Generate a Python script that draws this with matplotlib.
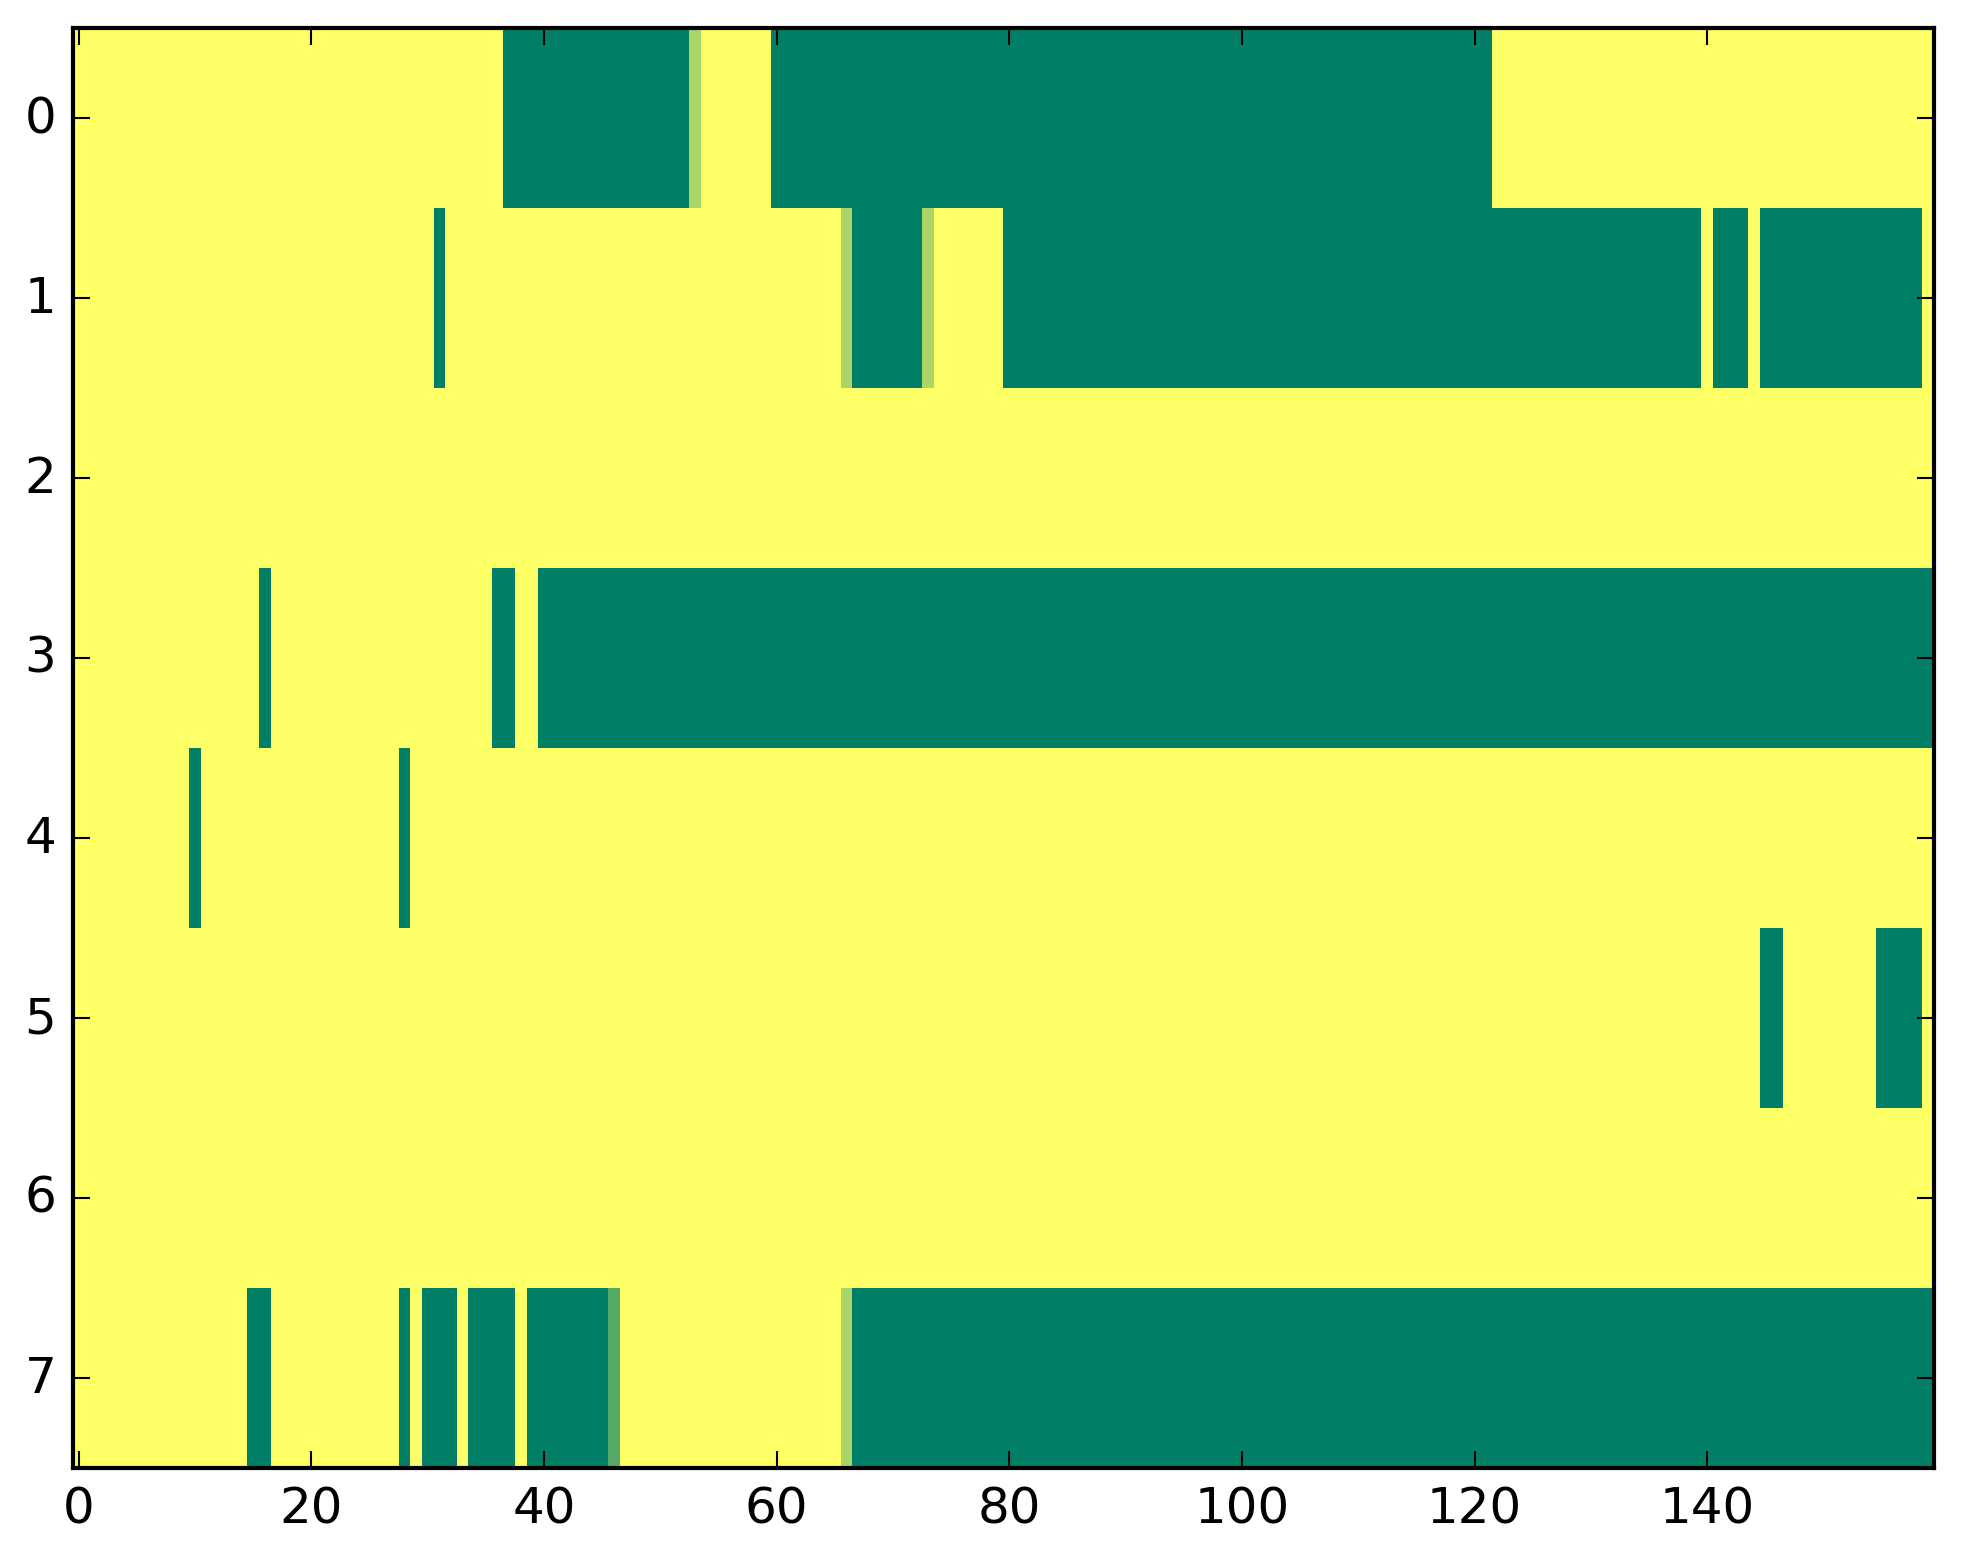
import numpy as np
import matplotlib
matplotlib.use("Agg")
import matplotlib.pyplot as plt

plt.style.use("classic")

n_rows = 8
n_cols = 160

# Non-yellow runs per row: (first column, last column, value)
row0 = [(37, 52, 1.0), (53, 53, 0.33), (60, 121, 1.0)]
row1 = [(31, 31, 1.0), (66, 66, 0.33), (67, 72, 1.0), (73, 73, 0.33),
        (80, 139, 1.0), (141, 143, 1.0), (145, 158, 1.0)]
row2 = []
row3 = [(16, 16, 1.0), (36, 37, 1.0), (40, 159, 1.0)]
row4 = [(10, 10, 1.0), (28, 28, 1.0)]
row5 = [(145, 146, 1.0), (155, 158, 1.0)]
row6 = []
row7 = [(15, 16, 1.0), (28, 28, 1.0), (30, 32, 1.0), (34, 37, 1.0),
        (39, 45, 1.0), (46, 46, 0.67), (66, 66, 0.33), (67, 159, 1.0)]
rows = [row0, row1, row2, row3, row4, row5, row6, row7]

xticks = [0, 20, 40, 60, 80, 100, 120, 140]
yticks = [0, 1, 2, 3, 4, 5, 6, 7]

grid = np.zeros((n_rows, n_cols))
for r, runs in enumerate(rows):
    for a, b, v in runs:
        grid[r, a:b + 1] = v

fig = plt.figure(figsize=(1963 / 300, 1564 / 300), dpi=300, facecolor="white")
ax = fig.add_axes([73 / 1963, 1 - 1469 / 1564, 1861 / 1963, 1440 / 1564])
ax.imshow(grid, cmap="summer_r", vmin=0, vmax=1, aspect="auto",
          interpolation="nearest")
ax.set_xlim(-0.5, 159.5)
ax.set_ylim(7.5, -0.5)
ax.set_xticks(xticks)
ax.set_yticks(yticks)
ax.tick_params(labelsize=12)
fig.savefig("out.png", dpi=300, facecolor="white")
